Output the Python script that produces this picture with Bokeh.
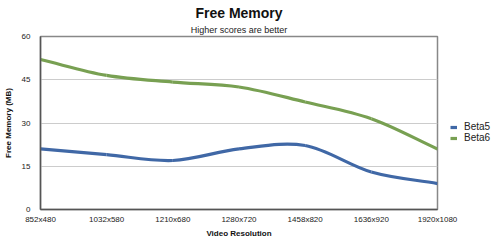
from bokeh.plotting import figure
from bokeh.models import (Range1d, FixedTicker, Title, Legend, LegendItem,
                          ColumnDataSource)
from bokeh.embed import file_html
from bokeh.resources import INLINE

categories = ["852x480", "1032x580", "1210x680", "1280x720", "1458x820",
              "1636x920", "1920x1080"]
beta5 = [21, 19, 17, 21, 22.2, 13, 9]
beta6 = [52, 46.5, 44.2, 42.5, 37.3, 31.5, 21]
y_ticks = [0, 15, 30, 45, 60]

BLUE = "#4068a6"
GREEN = "#78a052"
FONT = "Liberation Sans"

p = figure(frame_width=397, frame_height=173, output_backend="svg",
           toolbar_location=None,
           title=None, x_range=Range1d(0, len(categories) - 1),
           y_range=Range1d(0, 60),
           min_border_left=37, min_border_right=66, min_border_top=36,
           min_border_bottom=38)
p.background_fill_color = "white"
p.border_fill_color = "white"
p.outline_line_color = "#888888"
p.outline_line_width = 1.5

# titles
sub = Title(text="Higher scores are better", align="center",
            text_font=FONT, text_font_size="9px", text_font_style="normal",
            text_color="#222222", standoff=4, offset=0)
p.add_layout(sub, "above")
main = Title(text="Free Memory", align="center", text_font=FONT,
             text_font_size="14px", text_font_style="bold",
             text_color="#111111", standoff=0)
p.add_layout(main, "above")

# axes
xs = list(range(len(categories)))
p.xaxis.ticker = FixedTicker(ticks=xs)
p.xaxis.major_label_overrides = {i: c for i, c in enumerate(categories)}
p.xaxis.axis_label = "Video Resolution"
p.yaxis.ticker = FixedTicker(ticks=y_ticks)
p.yaxis.axis_label = "Free Memory (MB)"
for ax in (p.xaxis, p.yaxis):
    ax.major_tick_out = 0
    ax.major_tick_in = 0
    ax.minor_tick_out = 0
    ax.minor_tick_in = 0
    ax.axis_line_color = "#555555"
    ax.axis_line_width = 1.5
    ax.major_label_text_font = FONT
    ax.major_label_text_font_size = "8px"
    ax.major_label_text_color = "#222222"
    ax.axis_label_text_font = FONT
    ax.axis_label_text_font_size = "8px"
    ax.axis_label_text_font_style = "bold"
    ax.axis_label_text_color = "#111111"
p.xaxis.major_label_standoff = 5
p.xaxis.axis_label_standoff = 2
p.yaxis.major_label_standoff = 10
p.yaxis.axis_label_standoff = 6

p.xgrid.grid_line_color = None
p.ygrid.grid_line_color = "#cccccc"
p.ygrid.grid_line_width = 1.2


def bezier_source(x, y):
    n = len(x)
    x0, y0, x1, y1, cx0, cy0, cx1, cy1 = [], [], [], [], [], [], [], []
    def tangent(i):
        a = max(i - 1, 0)
        b = min(i + 1, n - 1)
        return ((y[b] - y[a]) / (x[b] - x[a]))
    for i in range(n - 1):
        dx = x[i + 1] - x[i]
        m0, m1 = tangent(i), tangent(i + 1)
        x0.append(x[i]); y0.append(y[i])
        x1.append(x[i + 1]); y1.append(y[i + 1])
        cx0.append(x[i] + dx / 3); cy0.append(y[i] + m0 * dx / 3)
        cx1.append(x[i + 1] - dx / 3); cy1.append(y[i + 1] - m1 * dx / 3)
    return ColumnDataSource(dict(x0=x0, y0=y0, x1=x1, y1=y1,
                                 cx0=cx0, cy0=cy0, cx1=cx1, cy1=cy1))


r5 = p.bezier(x0="x0", y0="y0", x1="x1", y1="y1", cx0="cx0", cy0="cy0",
              cx1="cx1", cy1="cy1", source=bezier_source(xs, beta5),
              line_color=BLUE, line_width=3.2)
r6 = p.bezier(x0="x0", y0="y0", x1="x1", y1="y1", cx0="cx0", cy0="cy0",
              cx1="cx1", cy1="cy1", source=bezier_source(xs, beta6),
              line_color=GREEN, line_width=3.2)

legend = Legend(items=[LegendItem(label="Beta5", renderers=[r5]),
                       LegendItem(label="Beta6", renderers=[r6])],
                location=(13, 66), orientation="vertical",
                padding=0, spacing=0, margin=0,
                glyph_width=7, glyph_height=10, label_height=10,
                label_standoff=7, label_text_font=FONT,
                label_text_font_size="10px", label_text_color="#222222",
                border_line_color=None, background_fill_alpha=0)
p.add_layout(legend, "right")

open("out.html", "w").write(file_html(p, INLINE))
